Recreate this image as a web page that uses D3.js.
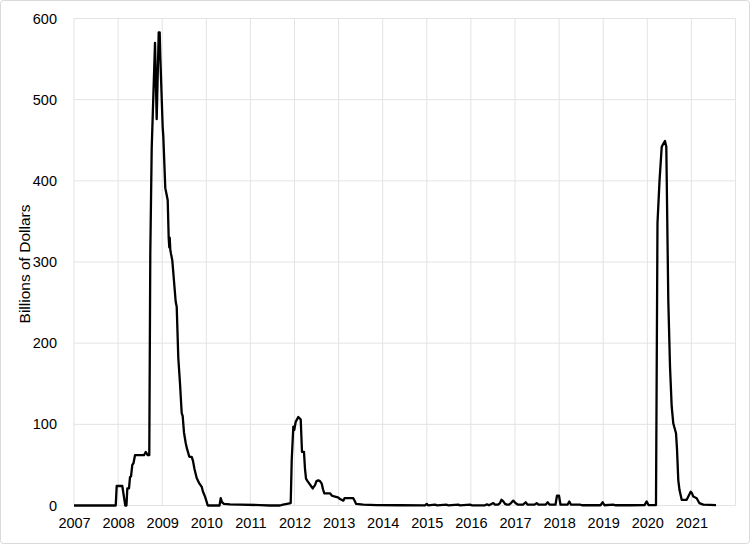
<!DOCTYPE html>
<html>
<head>
<meta charset="utf-8">
<script src="https://cdn.jsdelivr.net/npm/d3@7"></script>
<style>
  body { margin: 0; background: #fff; }
  text { font-family: "Liberation Sans", Arial, sans-serif; fill: #000; }
</style>
</head>
<body>
<svg id="chart"></svg>
<script>
// decimal year of each observation
const years = [
  2007.000, 2007.946, 2007.968, 2008.095, 2008.163, 2008.190, 2008.209, 2008.247,
  2008.270, 2008.293, 2008.322, 2008.349, 2008.383, 2008.587, 2008.626, 2008.671,
  2008.707, 2008.730, 2008.762, 2008.837, 2008.875, 2008.921, 2008.943, 2008.957,
  2009.011, 2009.025, 2009.070, 2009.093, 2009.125, 2009.147, 2009.161, 2009.170,
  2009.184, 2009.200, 2009.229, 2009.306, 2009.329, 2009.365, 2009.404, 2009.442,
  2009.465, 2009.494, 2009.533, 2009.562, 2009.615, 2009.669, 2009.698, 2009.732,
  2009.782, 2009.834, 2009.896, 2009.925, 2009.971, 2010.005, 2010.032, 2010.299,
  2010.327, 2010.356, 2010.401, 2010.537, 2010.764, 2011.218, 2011.444, 2011.671,
  2011.739, 2011.830, 2011.914, 2011.937, 2011.973, 2011.995, 2012.027, 2012.086,
  2012.141, 2012.170, 2012.215, 2012.238, 2012.261, 2012.295, 2012.336, 2012.374,
  2012.413, 2012.465, 2012.499, 2012.540, 2012.578, 2012.617, 2012.646, 2012.676,
  2012.805, 2012.850, 2012.918, 2012.986, 2013.032, 2013.107, 2013.134, 2013.333,
  2013.372, 2013.395, 2013.560, 2013.864, 2014.392, 2014.959, 2014.998, 2015.027,
  2015.186, 2015.231, 2015.451, 2015.481, 2015.714, 2015.753, 2015.980, 2016.025,
  2016.320, 2016.365, 2016.410, 2016.508, 2016.546, 2016.615, 2016.660, 2016.694,
  2016.735, 2016.773, 2016.819, 2016.864, 2016.909, 2016.961, 2017.011, 2017.068,
  2017.181, 2017.243, 2017.283, 2017.442, 2017.492, 2017.533, 2017.692, 2017.741,
  2017.782, 2017.918, 2017.952, 2017.998, 2018.032, 2018.190, 2018.231, 2018.270,
  2018.474, 2018.519, 2018.939, 2018.989, 2019.029, 2019.229, 2019.268, 2019.494,
  2019.608, 2019.937, 2019.986, 2020.027, 2020.186, 2020.197, 2020.231, 2020.277,
  2020.327, 2020.379, 2020.401, 2020.431, 2020.476, 2020.515, 2020.553, 2020.590,
  2020.651, 2020.673, 2020.703, 2020.730, 2020.780, 2020.893, 2020.930, 2020.984,
  2021.014, 2021.043, 2021.120, 2021.179, 2021.270, 2021.558
];

// billions of dollars
const values = [
  0, 0, 24, 24, 0, 0, 21, 21,
  35, 36, 50, 52, 62, 62, 66, 62,
  62, 310, 440, 570, 476, 583, 583, 553,
  466, 455, 391, 385, 376, 330, 318, 330,
  315, 310, 302, 251, 245, 182, 150, 114,
  110, 90, 77, 70, 60, 60, 55, 45,
  34, 28, 23, 17, 11, 5, 0, 0,
  9, 4, 2, 1.5, 1, 0.5, 0, 0,
  1, 2, 3, 56, 97, 93, 103, 109,
  106, 66, 66, 45, 33, 30, 27, 24,
  21, 25, 30, 31, 30, 27, 20, 15,
  15, 12, 11, 10, 8, 6, 9, 9,
  5, 2, 1, 0.5, 0.3, 0.2, 2, 0.2,
  1, 0.2, 1, 0.2, 1, 0.2, 1, 0.2,
  0.3, 1.5, 0.3, 3, 1, 1, 3, 7,
  5, 2, 1, 1, 3, 6, 3, 1,
  1, 4, 1, 1, 3, 1, 1, 4,
  1, 1, 12, 12, 1, 1, 5, 1,
  1, 0.3, 0.3, 4, 0.3, 1, 0.3, 0.5,
  0.3, 0.5, 5, 0.5, 0.5, 0.5, 348, 400,
  442, 447, 449, 442, 253, 171, 122, 101,
  89, 70, 31, 19, 7, 7, 11, 17,
  15, 11, 9, 3, 1, 0.5
];

const yearTicks = d3.range(2007, 2022);
const yTicks = [0, 100, 200, 300, 400, 500, 600];

const data = years.map((year, i) => ({year, value: values[i]}));

const width = 750;
const height = 544;
const padding = {
  bottom: 38.5,
  left: 74,
  right: 14.5,
  top: 18.5
};

const xScale = d3.scaleLinear()
  .domain([2007, 2022])
  .range([padding.left, width - padding.right]);

const yScale = d3.scaleLinear()
  .domain([0, 600])
  .range([height - padding.bottom, padding.top]);

const chart = d3.select('#chart')
  .attr('width', width)
  .attr('height', height);

// outer frame
chart.append('rect')
  .attr('x', 0.5)
  .attr('y', 0.5)
  .attr('width', width - 1)
  .attr('height', height - 1)
  .attr('rx', 3)
  .attr('fill', '#fff')
  .attr('stroke', '#d9d9d9');

// gridlines
chart.append('g')
  .selectAll('line')
  .data(yTicks)
  .enter()
  .append('line')
  .attr('x1', padding.left)
  .attr('x2', width - padding.right)
  .attr('y1', d => yScale(d))
  .attr('y2', d => yScale(d))
  .attr('stroke', '#e3e3e3');

chart.append('g')
  .selectAll('line')
  .data(d3.range(2007, 2023))
  .enter()
  .append('line')
  .attr('x1', d => xScale(d))
  .attr('x2', d => xScale(d))
  .attr('y1', padding.top)
  .attr('y2', height - padding.bottom)
  .attr('stroke', '#e3e3e3');

// axes, labels only
const yAxis = chart.append('g')
  .attr('transform', `translate(${padding.left}, 0)`)
  .call(d3.axisLeft(yScale).tickValues(yTicks).tickSize(0).tickPadding(17));

const xAxis = chart.append('g')
  .attr('transform', `translate(0, ${height - padding.bottom})`)
  .call(d3.axisBottom(xScale).tickValues(yearTicks).tickFormat(d3.format('d'))
    .tickSize(0).tickPadding(12));

[yAxis, xAxis].forEach(axis => {
  axis.select('.domain').remove();
  axis.selectAll('text')
    .attr('font-size', 14.5)
    .attr('font-family', '"Liberation Sans", Arial, sans-serif')
    .attr('fill', '#000');
});

chart.append('text')
  .attr('transform', `translate(30, ${(padding.top + height - padding.bottom) / 2 + 2}) rotate(-90)`)
  .attr('text-anchor', 'middle')
  .attr('font-size', 15.5)
  .text('Billions of Dollars');

const line = d3.line()
  .x(d => xScale(d.year))
  .y(d => yScale(d.value));

chart.append('path')
  .datum(data)
  .attr('d', line)
  .attr('fill', 'none')
  .attr('stroke', '#000')
  .attr('stroke-width', 2.3)
  .attr('stroke-linejoin', 'round');
</script>
</body>
</html>
